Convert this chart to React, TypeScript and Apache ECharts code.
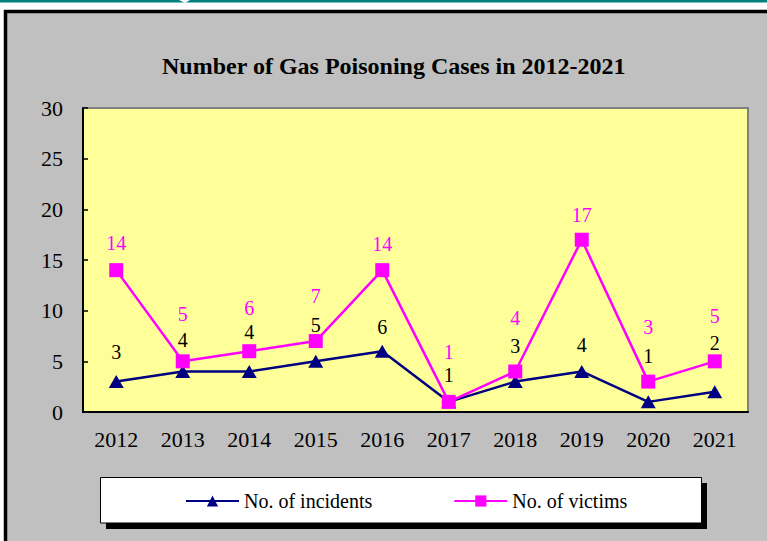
import React, { useEffect, useRef } from "react";
import * as echarts from "echarts";

const years = ["2012", "2013", "2014", "2015", "2016", "2017", "2018", "2019", "2020", "2021"];
const incidents = [3, 4, 4, 5, 6, 1, 3, 4, 1, 2];
const victims = [14, 5, 6, 7, 14, 1, 4, 17, 3, 5];
const seriesNames = ["No. of incidents", "No. of victims"];
const titleText = "Number of Gas Poisoning Cases in 2012-2021";

// label placement (style): distance of label centre above its point, px
const incLabelLift = [30, 31, 39, 36, 24, 27, 36, 26, 46, 49];
const vicLabelLift = [27, 47, 43, 45, 26, 50, 53, 25, 55, 45];

const FONT = "Liberation Serif";

export default function App() {
  const ref = useRef<HTMLDivElement>(null);
  useEffect(() => {
    if (!ref.current) return;
    const chart = echarts.init(ref.current, null, { renderer: "svg" });
    const option: any = {
      animation: false,
      backgroundColor: "#ffffff",
      graphic: [
        { type: "rect", shape: { x: 0, y: 0, width: 767, height: 2.5 }, style: { fill: "#007F7F" }, z: 0 },
        { type: "polygon", shape: { points: [[179, 0], [190, 0], [185, 3]] }, style: { fill: "#ffffff" }, z: 1 },
        {
          type: "rect",
          shape: { x: 5.5, y: 11.5, width: 820, height: 600 },
          style: { fill: "#C0C0C0", stroke: "#000000", lineWidth: 3.5 },
          z: -10,
          silent: true,
        },
        {
          type: "rect",
          shape: { x: 106, y: 483, width: 601, height: 46 },
          style: { fill: "#000000" },
          z: 1,
        },
        {
          type: "rect",
          shape: { x: 100.5, y: 477.5, width: 601, height: 45.5 },
          style: { fill: "#ffffff", stroke: "#000000", lineWidth: 1 },
          z: 2,
        },
      ],
      title: {
        text: titleText,
        left: 157,
        top: 49,
        textStyle: { fontFamily: FONT, fontSize: 24, fontWeight: "bold", color: "#000" },
      },
      legend: {
        left: 180,
        top: 486,
        itemWidth: 53,
        itemHeight: 14,
        itemGap: 81,
        z: 10,
        textStyle: { fontFamily: FONT, fontSize: 20, color: "#000" },
        data: seriesNames,
      },
      grid: {
        left: 83,
        right: 19,
        top: 108,
        bottom: 129,
        show: true,
        backgroundColor: "#FFFF99",
        borderColor: "#808080",
        borderWidth: 2,
      },
      xAxis: {
        type: "category",
        data: years,
        boundaryGap: true,
        axisLine: { lineStyle: { color: "#000", width: 2 } },
        axisTick: { inside: true, length: 5, lineStyle: { color: "#000", width: 1.5 } },
        axisLabel: { fontFamily: FONT, fontSize: 22, color: "#000", margin: 16 },
      },
      yAxis: {
        type: "value",
        min: 0,
        max: 30,
        interval: 5,
        splitLine: { show: false },
        axisLine: { show: true, lineStyle: { color: "#000", width: 2 } },
        axisTick: { show: true, inside: true, length: 5, lineStyle: { color: "#000", width: 1.5 } },
        axisLabel: { fontFamily: FONT, fontSize: 22, color: "#000", margin: 20 },
      },
      series: [
        {
          name: seriesNames[0],
          type: "line",
          symbol: "triangle",
          symbolSize: [15, 13],
          color: "#000080",
          lineStyle: { color: "#000080", width: 2.5 },
          itemStyle: { color: "#000080" },
          label: { show: true, position: "inside", fontFamily: FONT, fontSize: 20, color: "#000" },
          data: incidents.map((v, i) => ({ value: v, label: { offset: [0, -incLabelLift[i]] } })),
          z: 3,
        },
        {
          name: seriesNames[1],
          type: "line",
          symbol: "rect",
          symbolSize: 14,
          color: "#FF00FF",
          lineStyle: { color: "#FF00FF", width: 2.5 },
          itemStyle: { color: "#FF00FF" },
          label: { show: true, position: "inside", fontFamily: FONT, fontSize: 20, color: "#FF00FF" },
          data: victims.map((v, i) => ({ value: v, label: { offset: [0, -vicLabelLift[i]] } })),
          z: 4,
        },
      ],
    };
    chart.setOption(option);
    return () => chart.dispose();
  }, []);
  return (
    <div
      ref={ref}
      style={{ position: "fixed", left: 0, top: 0, width: 767, height: 541 }}
    />
  );
}
